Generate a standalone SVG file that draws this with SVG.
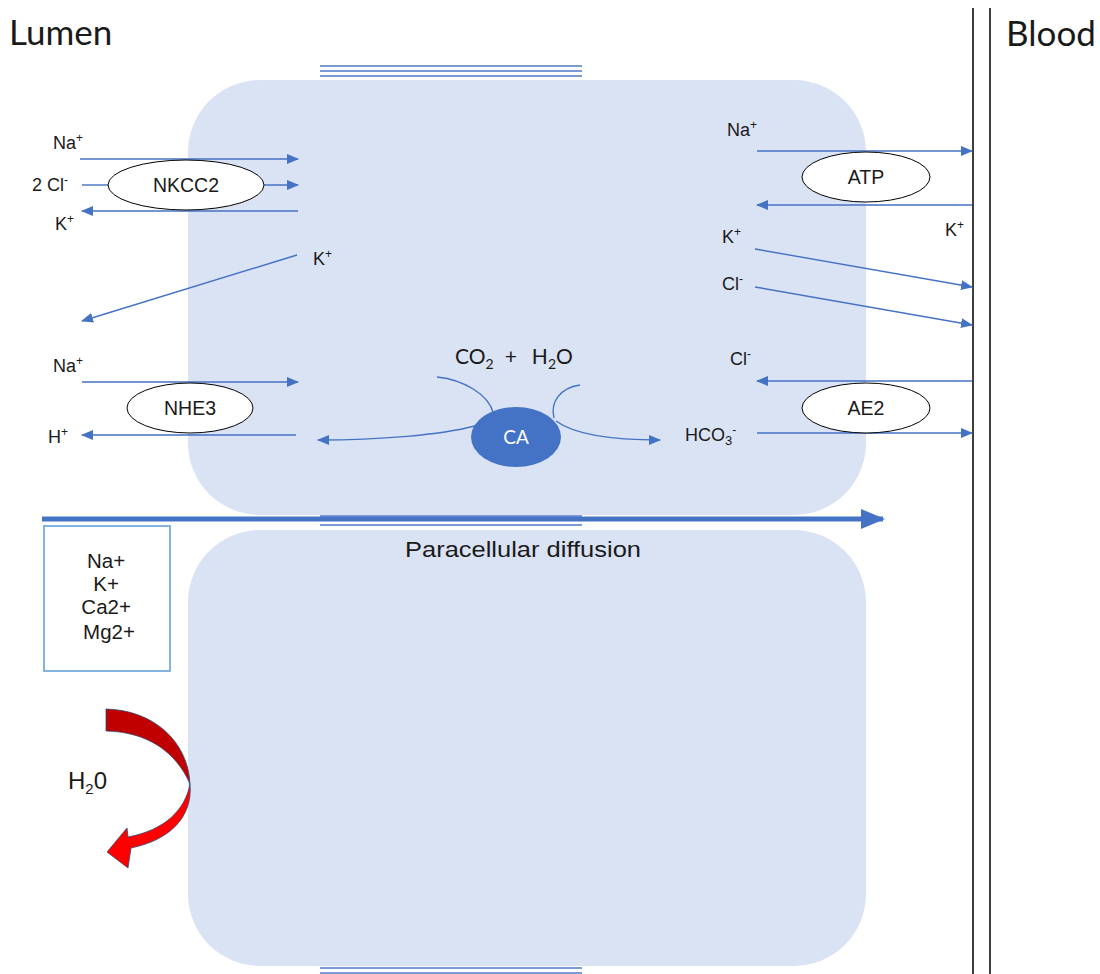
<svg xmlns="http://www.w3.org/2000/svg" width="1100" height="974" viewBox="0 0 1100 974">
<defs>
<style>
.cell{fill:#DAE3F3;}
.tri{stroke:#7B9BD6;stroke-width:2;fill:none;}
.ar{stroke:#4472C4;stroke-width:1.4;fill:none;marker-end:url(#ah);}
.ln{stroke:#4472C4;stroke-width:1.4;fill:none;}
.t{font-family:"Liberation Sans",Arial,sans-serif;font-size:18px;fill:#1a1a1a;}
.p{font-family:"Liberation Sans",Arial,sans-serif;font-size:19.5px;fill:#1a1a1a;}
.c{font-family:Lato,"Open Sans",sans-serif;fill:#1a1a1a;}
.sup{font-size:12px;}
.pump{fill:#fff;stroke:#000;stroke-width:1;}
</style>
<marker id="ah" markerWidth="12" markerHeight="10" refX="11" refY="5" orient="auto" markerUnits="userSpaceOnUse">
<path d="M0,0 L12,5 L0,10 Z" fill="#4472C4"/>
</marker>
<marker id="bigah" markerWidth="24" markerHeight="20" refX="22" refY="10" orient="auto" markerUnits="userSpaceOnUse">
<path d="M0,0 L24,10 L0,20 Z" fill="#4472C4"/>
</marker>
</defs>
<rect width="1100" height="974" fill="#fff"/>

<g id="cells">
<rect class="cell" x="188" y="80" width="678" height="435" rx="72" ry="72"/>
<rect class="cell" x="188" y="530" width="678" height="436" rx="72" ry="72"/>
</g>

<g id="junctions">
<line class="tri" x1="320" y1="66" x2="582" y2="66"/>
<line class="tri" x1="320" y1="71" x2="582" y2="71"/>
<line class="tri" x1="320" y1="76" x2="582" y2="76"/>
<line class="tri" x1="320" y1="516" x2="582" y2="516"/>
<line class="tri" x1="320" y1="525" x2="582" y2="525"/>
<line class="tri" x1="320" y1="968" x2="582" y2="968"/>
<line class="tri" x1="320" y1="973" x2="582" y2="973"/>
</g>

<g id="membrane">
<line x1="973" y1="8" x2="973" y2="974" stroke="#000" stroke-width="1.5"/>
<line x1="990" y1="8" x2="990" y2="974" stroke="#000" stroke-width="1.5"/>
</g>

<g id="titles">
<text class="c" x="9" y="45" font-size="35">Lumen</text>
<text class="c" x="1006" y="46" font-size="35">Blood</text>
</g>

<g id="connectors">
<line class="ar" x1="80" y1="159" x2="298" y2="159"/>
<line class="ln" x1="82" y1="185" x2="110" y2="185"/>
<line class="ar" x1="264" y1="185" x2="298" y2="185"/>
<line class="ar" x1="298" y1="211" x2="82" y2="211"/>
<line class="ar" x1="297" y1="255" x2="82" y2="321"/>
<line class="ar" x1="82" y1="382" x2="298" y2="382"/>
<line class="ar" x1="296" y1="435" x2="82" y2="435"/>
<line class="ar" x1="757" y1="151" x2="972" y2="151"/>
<line class="ar" x1="972" y1="205" x2="757" y2="205"/>
<line class="ar" x1="755" y1="249" x2="972" y2="287"/>
<line class="ar" x1="755" y1="287" x2="972" y2="325"/>
<line class="ar" x1="972" y1="381" x2="757" y2="381"/>
<line class="ar" x1="757" y1="433" x2="972" y2="433"/>
<path class="ln" d="M437,377 C465,380 488,395 493,412"/>
<path class="ln" d="M580,385 C560,388 550,402 554,418"/>
<path class="ar" d="M475,426 C440,435 380,440 318,440"/>
<path class="ar" d="M556,421 C575,435 610,440 660,440"/>
<line x1="42" y1="519" x2="883" y2="519" stroke="#4472C4" stroke-width="5" marker-end="url(#bigah)"/>
</g>

<g id="nkcc2">
<ellipse class="pump" cx="186" cy="185" rx="78" ry="25"/>
<text class="p" x="186" y="192" text-anchor="middle">NKCC2</text>
</g>
<g id="nhe3">
<ellipse class="pump" cx="190" cy="408" rx="63" ry="25"/>
<text class="p" x="190" y="415" text-anchor="middle">NHE3</text>
</g>
<g id="atp">
<ellipse class="pump" cx="866" cy="177" rx="64" ry="25"/>
<text class="p" x="866" y="184" text-anchor="middle">ATP</text>
</g>
<g id="ae2">
<ellipse class="pump" cx="866" cy="408" rx="64" ry="25"/>
<text class="p" x="866" y="415" text-anchor="middle">AE2</text>
</g>
<g id="ca">
<ellipse cx="516" cy="437" rx="45" ry="30" fill="#4472C4"/>
<text class="c" x="516" y="444" font-size="19" style="fill:#fff" text-anchor="middle">CA</text>
</g>

<g id="labels">
<text class="t" x="53" y="149">Na<tspan class="sup" dy="-7">+</tspan></text>
<text class="t" x="32" y="191">2 Cl<tspan class="sup" dy="-7">-</tspan></text>
<text class="t" x="55" y="230">K<tspan class="sup" dy="-7">+</tspan></text>
<text class="t" x="313" y="265">K<tspan class="sup" dy="-7">+</tspan></text>
<text class="t" x="53" y="372">Na<tspan class="sup" dy="-7">+</tspan></text>
<text class="t" x="48" y="443">H<tspan class="sup" dy="-7">+</tspan></text>
<text class="t" x="727" y="136">Na<tspan class="sup" dy="-7">+</tspan></text>
<text class="t" x="945" y="236">K<tspan class="sup" dy="-7">+</tspan></text>
<text class="t" x="722" y="243">K<tspan class="sup" dy="-7">+</tspan></text>
<text class="t" x="722" y="290">Cl<tspan class="sup" dy="-7">-</tspan></text>
<text class="t" x="730" y="365">Cl<tspan class="sup" dy="-7">-</tspan></text>
<text class="t" x="685" y="441">HCO<tspan font-size="13" dy="4">3</tspan><tspan class="sup" dy="-11">-</tspan></text>
<text class="c" x="455" y="364" font-size="21">CO<tspan font-size="14" dy="5">2</tspan><tspan dy="-5" dx="11">+</tspan><tspan dx="15">H</tspan><tspan font-size="14" dy="5">2</tspan><tspan dy="-5">O</tspan></text>
<text class="t" x="405" y="557" style="font-size:22.5px" textLength="236" lengthAdjust="spacingAndGlyphs">Paracellular diffusion</text>
</g>

<g id="ionbox">
<rect x="44" y="526" width="126" height="145" fill="#fff" stroke="#5B9BD5" stroke-width="1.5"/>
<text class="t" text-anchor="middle" style="font-size:20.5px">
<tspan x="109" y="568">Na+</tspan>
<tspan x="109" y="591">K+</tspan>
<tspan x="109" y="614">Ca2+</tspan>
<tspan x="109" y="639">Mg2+</tspan>
</text>
</g>

<g id="water">
<path d="M106,709 C152,710 188,740 190,784 C176,752 148,732 106,731 Z" fill="#C00000" stroke="#2F4A7A" stroke-width="0.8"/>
<path d="M190,784 C193,817 170,840 131,848 L128,868 L107,852 L127,828 L128,837 C165,830 185,810 190,784 Z" fill="#FF0000" stroke="#2F4A7A" stroke-width="0.8"/>
<text class="t" x="68" y="789" style="font-size:24px">H<tspan font-size="15" dy="5">2</tspan><tspan dy="-5">0</tspan></text>
</g>
</svg>
